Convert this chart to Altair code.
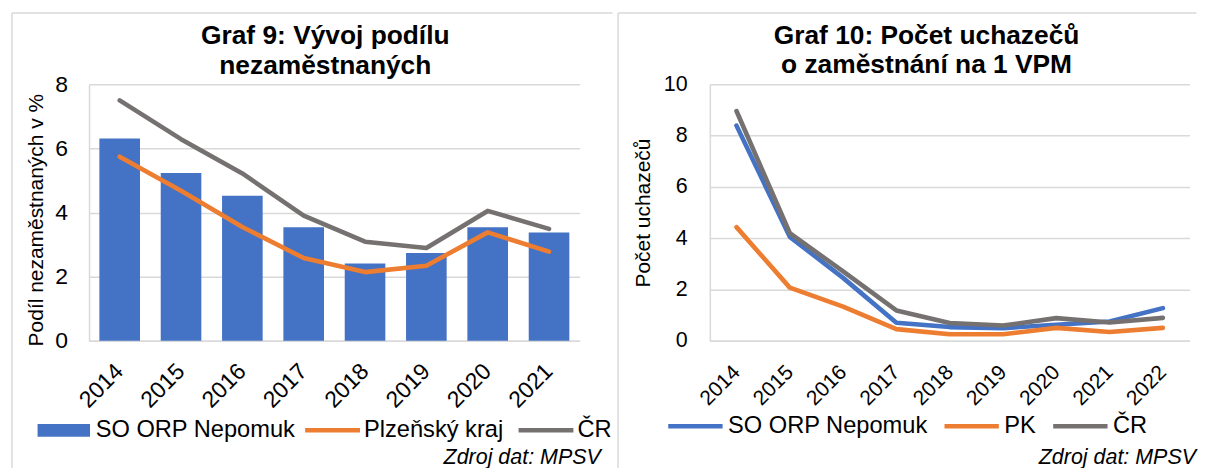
import altair as alt
import pandas as pd

# ---------------- data ----------------
YEARS_9 = ["2014", "2015", "2016", "2017", "2018", "2019", "2020", "2021"]
NEPOMUK_9 = [6.31, 5.23, 4.52, 3.54, 2.41, 2.74, 3.54, 3.38]
PLZEN_9 = [5.74, 4.68, 3.55, 2.58, 2.14, 2.34, 3.38, 2.78]
CR_9 = [7.50, 6.29, 5.22, 3.90, 3.09, 2.89, 4.05, 3.49]
SERIES_9 = ["SO ORP Nepomuk", "Plzeňský kraj", "ČR"]

YEARS_10 = ["2014", "2015", "2016", "2017", "2018", "2019", "2020", "2021", "2022"]
NEPOMUK_10 = [8.39, 4.05, 2.45, 0.70, 0.53, 0.49, 0.62, 0.75, 1.27]
PK_10 = [4.43, 2.07, 1.33, 0.45, 0.25, 0.25, 0.50, 0.34, 0.50]
CR_10 = [8.96, 4.20, 2.70, 1.18, 0.69, 0.59, 0.88, 0.71, 0.89]
SERIES_10 = ["SO ORP Nepomuk", "PK", "ČR"]

TITLE_9 = ["Graf 9: Vývoj podílu", "nezaměstnaných"]
TITLE_10 = ["Graf 10: Počet uchazečů", "o zaměstnání na 1 VPM"]
YTITLE_9 = "Podíl nezaměstnaných v %"
YTITLE_10 = "Počet uchazečů"
SOURCE = "Zdroj dat: MPSV"
TICKS_9 = [0, 2, 4, 6, 8]
TICKS_10 = [0, 2, 4, 6, 8, 10]

COLORS = ["#4472C4", "#ED7D31", "#767171"]
GRID = "#D9D9D9"
FONT = "Liberation Sans"

bars_df = pd.DataFrame({"rok": YEARS_9, "hodnota": NEPOMUK_9, "serie": SERIES_9[0]})
lines9_df = pd.DataFrame({
    "rok": YEARS_9 * 2,
    "hodnota": PLZEN_9 + CR_9,
    "serie": [SERIES_9[1]] * len(YEARS_9) + [SERIES_9[2]] * len(YEARS_9),
})
lines10_df = pd.DataFrame({
    "rok": YEARS_10 * 3,
    "hodnota": NEPOMUK_10 + PK_10 + CR_10,
    "serie": [SERIES_10[0]] * len(YEARS_10) + [SERIES_10[1]] * len(YEARS_10) + [SERIES_10[2]] * len(YEARS_10),
})
one = alt.Data(values=[{}])


def x_axis(label_size, pad, tx, ty):
    return alt.Axis(
        title=SOURCE, labelAngle=-45, labelAlign="right", labelBaseline="middle",
        labelPadding=pad, labelFontSize=label_size, labelColor="black",
        ticks=False, tickSize=0, grid=False,
        domainColor=GRID, domainWidth=1.5,
        titleX=tx, titleY=ty, titleAlign="right", titleBaseline="alphabetic",
        titleFontSize=21.5, titleFontStyle="italic", titleFontWeight="normal",
        titleColor="black",
    )


def y_axis(title, values, label_size, pad, tx, ty):
    return alt.Axis(
        title=title, values=values, labelFontSize=label_size, labelPadding=pad,
        labelColor="black", ticks=False, tickSize=0,
        grid=True, gridColor=GRID, gridWidth=1.5,
        domainColor=GRID, domainWidth=1.5,
        titleFontSize=21, titleFontWeight="normal", titleColor="black",
        titleAngle=270, titleX=tx, titleY=ty, titleAlign="center",
        titleBaseline="alphabetic",
    )


# ---------------- Graf 9 ----------------
x9 = alt.X("rok:N", sort=YEARS_9,
           scale=alt.Scale(type="band", paddingInner=0.338, paddingOuter=0.169),
           axis=x_axis(23, 26.8, 512.7, 123))
y9 = alt.Y("hodnota:Q", scale=alt.Scale(domain=[0, 8], nice=False),
           axis=y_axis(YTITLE_9, TICKS_9, 23, 21.6, -46.6, 135.6))

bars9 = alt.Chart(bars_df).mark_bar(strokeWidth=0).encode(
    x=x9, y=y9,
    fill=alt.Fill("serie:N", scale=alt.Scale(domain=[SERIES_9[0]], range=[COLORS[0]]),
                  legend=alt.Legend(orient="none", legendX=-51.8, legendY=320.5, title=None,
                                    symbolType="M-1,-0.2414H1V0.2414H-1Z", symbolSize=2767,
                                    symbolStrokeWidth=0, labelFontSize=23.7, labelOffset=5.5,
                                    labelLimit=400, labelColor="black")),
)
lines9 = alt.Chart(lines9_df).mark_line(strokeWidth=4.6, strokeCap="round", strokeJoin="round").encode(
    x=alt.X("rok:N", sort=YEARS_9), y="hodnota:Q",
    stroke=alt.Stroke("serie:N", scale=alt.Scale(domain=SERIES_9[1:], range=COLORS[1:]),
                      legend=alt.Legend(orient="none", legendX=214.2, legendY=316.7, title=None,
                                        direction="horizontal", symbolType="stroke",
                                        symbolSize=3025, symbolStrokeWidth=4.6,
                                        labelFontSize=23.7, labelOffset=1.5, columnPadding=5,
                                        labelLimit=400, labelColor="black")),
)
title9 = alt.Chart(one).mark_text(text=TITLE_9, fontSize=26.4, fontWeight="bold", align="center",
                                  baseline="alphabetic", lineHeight=29.5, color="black").encode(
    x=alt.value(236.9), y=alt.value(-40.3))
vline9 = alt.Chart(one).mark_rule(color=GRID, strokeWidth=1.5).encode(
    x=alt.value(-77.3), y=alt.value(-71.6), y2=alt.value(384.7))
hline9 = alt.Chart(one).mark_rule(color=GRID, strokeWidth=1.5).encode(
    x=alt.value(-77.3), x2=alt.value(525), y=alt.value(-71.6))

chart9 = alt.layer(vline9, hline9, bars9, lines9, title9).properties(width=492, height=257)

# ---------------- Graf 10 ----------------
x10 = alt.X("rok:N", sort=YEARS_10, scale=alt.Scale(type="point", padding=0.5),
            axis=x_axis(21, 28.2, 487, 123))
y10 = alt.Y("hodnota:Q", scale=alt.Scale(domain=[0, 10], nice=False),
            axis=y_axis(YTITLE_10, TICKS_10, 21.5, 22.7, -60, 128.5))

lines10 = alt.Chart(lines10_df).mark_line(strokeWidth=4.6, strokeCap="round", strokeJoin="round").encode(
    x=x10, y=y10,
    stroke=alt.Stroke("serie:N", scale=alt.Scale(domain=SERIES_10, range=COLORS),
                      legend=alt.Legend(orient="none", legendX=-44.45, legendY=312.7, title=None,
                                        direction="horizontal", symbolType="stroke",
                                        symbolSize=2970, symbolStrokeWidth=4.6,
                                        labelFontSize=23.7, labelOffset=2.75, columnPadding=7,
                                        labelLimit=400, labelColor="black")),
)
title10 = alt.Chart(one).mark_text(text=TITLE_10, fontSize=26.4, fontWeight="bold", align="center",
                                   baseline="alphabetic", lineHeight=29.5, color="black").encode(
    x=alt.value(217.3), y=alt.value(-40.6))
vline10 = alt.Chart(one).mark_rule(color=GRID, strokeWidth=1.5).encode(
    x=alt.value(-92), y=alt.value(-71.6), y2=alt.value(384.7))
hline10 = alt.Chart(one).mark_rule(color=GRID, strokeWidth=1.5).encode(
    x=alt.value(-92), x2=alt.value(488), y=alt.value(-71.6))

chart10 = alt.layer(vline10, hline10, lines10, title10).properties(width=481, height=257)

chart = alt.hconcat(chart9, chart10, spacing=3.5).resolve_scale(
    stroke="independent", fill="independent"
).resolve_legend(
    stroke="independent", fill="independent"
).properties(
    padding={"left": 2.25, "top": 2.95, "right": 0, "bottom": 0}
).configure(font=FONT).configure_view(stroke=None)

chart.save("out.html", embed_options={"renderer": "svg", "actions": False})
